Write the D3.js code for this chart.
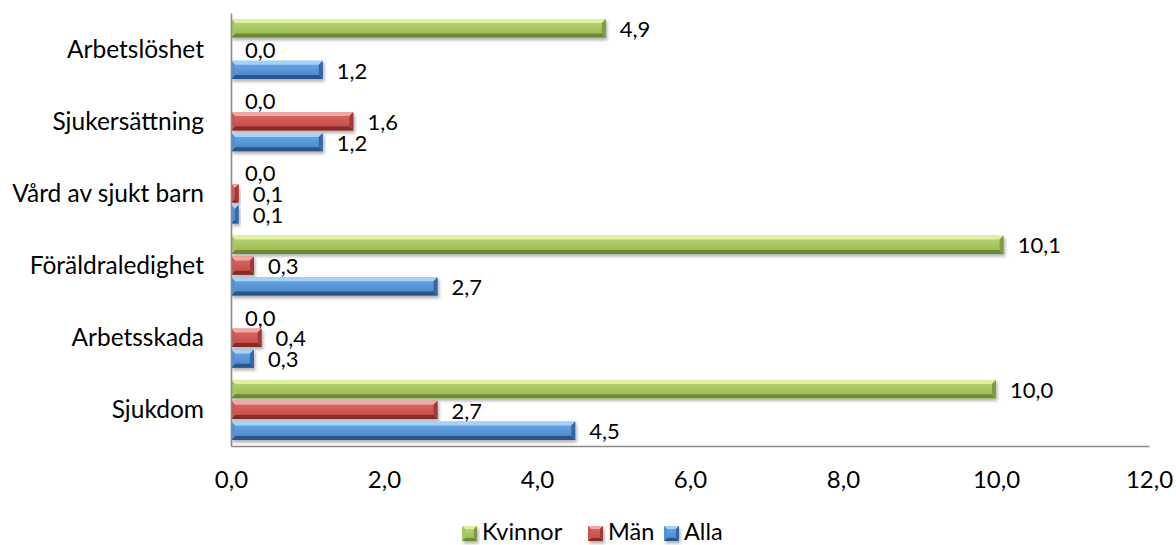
<!DOCTYPE html>
<html lang="sv">
<head>
<meta charset="utf-8">
<script src="https://cdn.jsdelivr.net/npm/d3@7"></script>
<style>
  html, body { margin: 0; padding: 0; background: #fff; }
  svg { display: block; }
  text { font-family: Lato, "Noto Sans", sans-serif; fill: #000; }
</style>
</head>
<body>
<svg id="chart" width="1176" height="545"></svg>
<script>
// Categories, top to bottom
const categories = ["Arbetslöshet", "Sjukersättning", "Vård av sjukt barn", "Föräldraledighet", "Arbetsskada", "Sjukdom"];
const seriesNames = ["Kvinnor", "Män", "Alla"];
const kvinnor = [4.9, 0.0, 0.0, 10.1, 0.0, 10.0];
const man     = [0.0, 1.6, 0.1, 0.3, 0.4, 2.7];
const alla    = [1.2, 1.2, 0.1, 2.7, 0.3, 4.5];
const xTicks  = [0, 2, 4, 6, 8, 10, 12];

const seriesValues = { "Kvinnor": kvinnor, "Män": man, "Alla": alla };

// Bevelled bar palettes
const palette = {
  "Kvinnor": { light: "#dcf0a0", top: "#bcd979", bottom: "#95b64e", dark: "#6c8a30", side: "#7f9c3e", lside: "#a7c765" },
  "Män":     { light: "#f2a7a5", top: "#dc6d6a", bottom: "#bf4643", dark: "#872c2a", side: "#a13a37", lside: "#cc5552" },
  "Alla":    { light: "#a4d3f8", top: "#6eaae8", bottom: "#4682ca", dark: "#2b558f", side: "#3866a5", lside: "#5590d6" }
};

const fmt = v => d3.format(".1f")(v).replace(".", ",");
const fontStack = "Lato, 'Noto Sans', sans-serif";

const svg = d3.select("#chart");

const x = d3.scaleLinear().domain([0, 12]).range([231, 1149]);
const y0 = d3.scaleBand().domain(categories).range([13, 446]).padding(0);
const y1 = d3.scaleBand().domain(seriesNames).range([0, y0.bandwidth()])
  .paddingInner(0.12).paddingOuter(0.29);

// Defs: gradients and drop shadow
const defs = svg.append("defs");
seriesNames.forEach((s, i) => {
  const g = defs.append("linearGradient").attr("id", "face" + i)
    .attr("x1", 0).attr("y1", 0).attr("x2", 0).attr("y2", 1);
  g.append("stop").attr("offset", "0%").attr("stop-color", palette[s].top);
  g.append("stop").attr("offset", "100%").attr("stop-color", palette[s].bottom);
});
const f = defs.append("filter").attr("id", "shadow")
  .attr("x", "-10%").attr("y", "-30%").attr("width", "130%").attr("height", "190%");
f.append("feDropShadow").attr("dx", 1.5).attr("dy", 2.5).attr("stdDeviation", 1.8)
  .attr("flood-color", "#000").attr("flood-opacity", 0.3);

function bevelBar(sel, x0, yTop, w, h, s, idx, bev) {
  const c = palette[s];
  const b = Math.max(0, Math.min(bev, w / 2, h / 2));
  const x1 = x0 + w, yB = yTop + h;
  const g = sel.append("g").attr("filter", "url(#shadow)");
  g.append("rect").attr("x", x0).attr("y", yTop).attr("width", w).attr("height", h)
    .attr("fill", `url(#face${idx})`);
  const poly = (pts, fill) => g.append("polygon")
    .attr("points", pts.map(p => p.join(",")).join(" ")).attr("fill", fill);
  poly([[x0, yTop], [x1, yTop], [x1 - b, yTop + b], [x0 + b, yTop + b]], c.light);
  poly([[x0, yB], [x1, yB], [x1 - b, yB - b], [x0 + b, yB - b]], c.dark);
  poly([[x1, yTop], [x1, yB], [x1 - b, yB - b], [x1 - b, yTop + b]], c.side);
  poly([[x0, yTop], [x0, yB], [x0 + b, yB - b], [x0 + b, yTop + b]], c.lside);
}

// Bars and value labels
const plot = svg.append("g");
categories.forEach((cat, ci) => {
  seriesNames.forEach((s, si) => {
    const v = seriesValues[s][ci];
    const yTop = y0(cat) + y1(s);
    const h = y1.bandwidth();
    const w = x(v) - x(0);
    if (w > 0) bevelBar(plot, x(0), yTop, w, h, s, si, 4);
    plot.append("text")
      .attr("x", x(v) + 14)
      .attr("y", yTop + h / 2 + 1)
      .attr("dy", "0.35em")
      .attr("font-size", 22)
      .text(fmt(v));
  });
});

// Axes
const axisColor = "#8a8a8a";
const xAxis = svg.append("g").attr("transform", "translate(0,446)")
  .call(d3.axisBottom(x).tickValues(xTicks).tickSize(0).tickSizeOuter(0).tickFormat(fmt));
xAxis.select(".domain").attr("stroke", axisColor).attr("stroke-width", 1.6);
xAxis.selectAll(".tick text")
  .attr("y", 42).attr("dy", 0)
  .attr("font-size", 24).attr("font-family", fontStack).attr("fill", "#000");

const yAxis = svg.append("g").attr("transform", "translate(231,0)")
  .call(d3.axisLeft(y0).tickSize(0).tickSizeOuter(0).tickPadding(27));
yAxis.select(".domain").attr("stroke", axisColor).attr("stroke-width", 1.6);
yAxis.selectAll(".tick text")
  .attr("dy", "0.35em")
  .attr("font-size", 24.5).attr("font-family", fontStack).attr("fill", "#000");

// Legend
const legendX = [462, 588, 664];
const legend = svg.append("g");
seriesNames.forEach((s, i) => {
  const lx = legendX[i];
  bevelBar(legend, lx, 526, 15, 15, s, i, 3);
  legend.append("text").attr("x", lx + 20).attr("y", 540)
    .attr("font-size", 23.5).text(s);
});
</script>
</body>
</html>
